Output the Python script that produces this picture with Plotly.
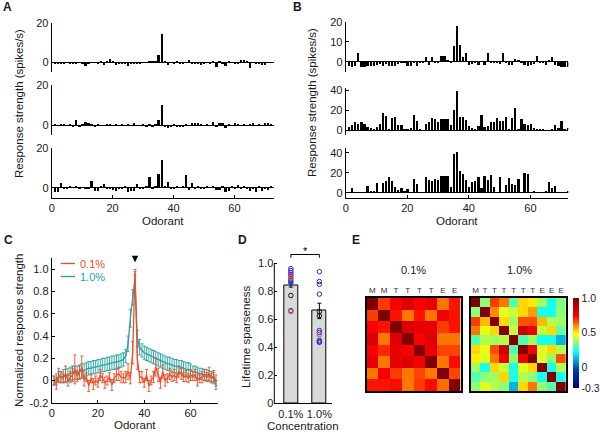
import plotly.graph_objects as go

W, H = 600, 432
FONT = "Liberation Sans, Arial, Helvetica, sans-serif"
RED = "#EE4D26"
TEAL = "#22A39F"
BLUE = "#2B2BD0"
PINK = "#E0503C"

# ---------------- data ----------------
odorants = list(range(1, 73))
a_top = [-0.5, -0.8, -0.3, -0.5, 0.2, -0.4, -0.3, -0.6, 0.1, -0.5,
         -1.8, -0.4, 0.2, -0.2, -0.8, 0.3, -1.5, 0.5, 2.0, 0.3,
         -1.2, -0.6, -0.4, -0.8, -1.9, -0.5, -1.0, -0.3, -0.5, 0.1,
         0.0, 0.4, 0.3, 0.8, 3.7, 14.5, 0.6, -1.2, 0.2, -0.8,
         0.9, -0.3, -0.5, 0.2, 1.0, -0.3, -0.9, -0.6, -1.3, -0.7,
         0.0, -0.3, 0.3, -2.2, 0.6, -0.5, -1.6, 0.3, -0.2, -0.6,
         -0.8, 1.2, 1.0, 0.3, -3.0, 0.1, -0.3, -0.4, -1.1, -1.4,
         -0.2, 0.0]
a_mid = [0.2, -0.2, 0.3, 0.2, -0.3, 0.2, -0.8, 2.5, -0.8, 0.4,
         1.3, 1.0, 0.3, -0.9, 0.2, -0.2, -0.4, 0.3, 0.1, -0.3,
         0.2, -0.2, 0.3, -0.4, 0.1, -0.3, 0.8, -0.2, -0.5, 0.3,
         -0.8, 0.1, -0.6, 0.2, 2.6, 9.8, -1.0, -1.3, -0.6, 0.3,
         -0.8, -1.2, -0.6, 0.2, -0.3, 1.0, 1.0, 0.8, 0.2, -0.2,
         0.3, -0.4, 1.3, -1.0, 1.0, 0.7, -1.3, 0.2, -0.3, 1.0,
         0.1, -0.2, 0.2, -0.4, 0.3, 0.6, -0.3, 0.2, -0.2, 1.2,
         0.9, 0.3]
a_bot = [-2.5, -2.3, 2.0, -0.8, -0.6, 0.2, -0.3, 0.2, -0.4, -0.2,
         -0.6, -0.8, 3.3, -1.8, -1.8, 0.3, 1.8, -0.4, -0.6, -1.5,
         -1.6, -0.8, -0.4, 0.3, -2.6, -1.6, -1.6, 1.6, -0.4, -0.8,
         0.2, 5.5, -0.5, 0.2, 7.0, 14.0, 0.4, 2.7, -1.0, -0.6,
         0.2, -0.3, 0.3, 6.3, -1.5, 2.0, -1.0, 0.5, -0.4, -0.6,
         0.3, -0.2, 0.4, -1.5, -1.5, 0.3, -2.5, -2.0, 0.2, -0.6,
         1.3, -0.8, 0.3, -0.6, -2.0, -0.8, -2.5, 0.2, -1.6, -1.0,
         -1.2, 0.3]
b_top = [-2, -2.5, -2, 4.5, -2.5, -2.5, -2, -2, -2, -1.5,
         -1, -2, -0.5, -2, -2, -2, -1, 0.5, -0.3, -2,
         -2, -0.3, -2, -0.2, 0.2, 2.5, -1.5, 2.5, -0.3, 0.2,
         3, 3, 1, 0.3, 8.2, 18, 8.7, 2.5, 4.8, -1.5,
         -1, 0.5, -1.5, 0, -1.5, 4.5, -0.3, 0.2, 0.5, -1,
         4.8, -0.3, -1.5, -1.5, 1.5, 1, 0.5, -1.5, -2, -1.5,
         -0.5, 3, -0.3, 0.2, -1.5, 1, 2.7, -1.5, -2, -2.5,
         -2.5, -2.5]
b_mid = [3.5, 5, 8, 6, 8, 6.5, 3.5, 2.5, 0.5, 3,
         6, 17, 14.5, 0.5, 12, 13.5, 5, 5, 1, 0.5,
         2.5, 15.5, 9, 0.5, 0, 6, 8.5, 12.5, 11.5, 8,
         11, 11, 11, 5, 20.5, 39, 13.5, 13.5, 10, 4.5,
         2, 0.5, 4.5, 15.5, 3, 4, 8.5, 8.5, 12.5, 9.5,
         9, 13, 0.5, 12, 22.5, 0.5, 11.5, 6.5, 5.5, 6,
         2.5, 1, 0.3, 0.3, 0, 0, 0.3, 5, 2, 9.5,
         0.3, 1.5]
b_bot = [0.5, 5.5, 0.5, 0.5, 1, 0.3, 7.5, 2.5, 2.5, 10.5,
         0.5, 10.5, 12, 16, 12, 6, 3.5, 5, 1.5, 4.5,
         0.5, 14, 9, 0.5, 0.5, 16, 13, 12.5, 14.5, 13.5,
         17, 17, 17, 6, 39, 41, 22, 19, 13, 6,
         11, 12, 16, 5.5, 17, 13, 18, 6, 0.5, 16,
         0.5, 8, 15, 9.5, 8, 14, 0.5, 20.5, 19, 0.5,
         2, 0.5, 0.3, 0.3, 2, 11.5, 5, 7, 0.5, 0.3,
         0.5, 1.5]

c_odorants = list(range(1, 72))
c_low = [0.0, -0.03, 0.05, 0.03, 0.02, 0.06, 0.0, 0.03, 0.05, 0.1,
         0.04, 0.07, 0.12, 0.0, 0.03, -0.05, 0.02, -0.03, 0.0, -0.02,
         0.05, 0.02, -0.02, 0.0, 0.03, -0.04, 0.02, 0.05, 0.06, 0.03,
         0.02, 0.03, 0.08, 0.02, 0.25, 0.97, 0.2, 0.03, 0.03, -0.02,
         0.05, -0.05, 0.0, 0.03, 0.12, 0.05, -0.02, 0.08, 0.0, 0.02,
         0.06, 0.03, 0.05, 0.02, 0.08, 0.06, 0.03, 0.04, 0.02, 0.05,
         0.04, 0.05, 0.0, 0.02, 0.03, 0.05, 0.03, 0.06, 0.02, 0.04,
         0.0]
c_low_err = [0.04, 0.05, 0.06, 0.05, 0.04, 0.07, 0.05, 0.05, 0.06, 0.13,
             0.05, 0.06, 0.1, 0.05, 0.04, 0.05, 0.04, 0.05, 0.04, 0.04,
             0.05, 0.04, 0.05, 0.04, 0.04, 0.05, 0.04, 0.05, 0.06, 0.05,
             0.04, 0.05, 0.07, 0.05, 0.1, 0.03, 0.1, 0.05, 0.05, 0.04,
             0.05, 0.05, 0.04, 0.05, 0.08, 0.06, 0.05, 0.06, 0.05, 0.04,
             0.05, 0.04, 0.05, 0.04, 0.05, 0.05, 0.04, 0.05, 0.04, 0.05,
             0.04, 0.05, 0.05, 0.04, 0.05, 0.05, 0.04, 0.06, 0.04, 0.05,
             0.05]
c_high = [0.0, 0.01, 0.03, 0.03, 0.04, 0.04, 0.05, 0.06, 0.07, 0.07,
          0.07, 0.08, 0.09, 0.09, 0.10, 0.11, 0.11, 0.12, 0.12, 0.13,
          0.13, 0.14, 0.14, 0.15, 0.15, 0.16, 0.16, 0.17, 0.17, 0.18,
          0.19, 0.22, 0.33, 0.56, 0.75, 0.92, 0.38, 0.30, 0.27, 0.25,
          0.24, 0.23, 0.22, 0.21, 0.20, 0.19, 0.18, 0.17, 0.16, 0.15,
          0.15, 0.14, 0.13, 0.13, 0.12, 0.12, 0.11, 0.10, 0.10, 0.09,
          0.08, 0.08, 0.07, 0.06, 0.06, 0.05, 0.05, 0.04, 0.03, 0.02,
          -0.04]
c_high_err = [0.04, 0.05, 0.05, 0.05, 0.06, 0.06, 0.06, 0.06, 0.06, 0.06,
              0.06, 0.06, 0.06, 0.06, 0.06, 0.06, 0.06, 0.06, 0.06, 0.06,
              0.06, 0.06, 0.06, 0.06, 0.06, 0.06, 0.06, 0.06, 0.06, 0.06,
              0.06, 0.06, 0.07, 0.08, 0.07, 0.06, 0.07, 0.07, 0.06, 0.06,
              0.06, 0.06, 0.06, 0.06, 0.06, 0.06, 0.06, 0.06, 0.06, 0.06,
              0.06, 0.06, 0.06, 0.06, 0.06, 0.06, 0.06, 0.06, 0.06, 0.06,
              0.05, 0.05, 0.05, 0.05, 0.05, 0.05, 0.05, 0.05, 0.05, 0.05,
              0.04]
c_names = ["0.1%", "1.0%"]

d_conc = ["0.1%", "1.0%"]
d_mean = [0.845, 0.66]
d_sem = [0.015, 0.055]
d_blue_low = [0.962, 0.948, 0.934, 0.92, 0.905, 0.885, 0.872, 0.86, 0.662]
d_red_low = [0.912, 0.897, 0.655]
d_black_low = [0.77]
d_blue_high = [0.94, 0.87, 0.85, 0.78, 0.52, 0.505, 0.45, 0.44, 0.435]
d_red_high = [0.49]
d_black_high = [0.655, 0.625]
d_bracket_y = [1.04, 1.063]

e_labels_low = ["M", "M", "T", "T", "T", "T", "E", "E"]
e_labels_high = ["M", "T", "T", "T", "T", "T", "T", "E", "E", "E"]
e_low = [
    [1.0, 0.68, 0.74, 0.80, 0.74, 0.78, 0.62, 0.72],
    [0.68, 1.0, 0.72, 0.62, 0.72, 0.62, 0.76, 0.72],
    [0.74, 0.72, 1.0, 0.80, 0.78, 0.78, 0.68, 0.72],
    [0.80, 0.62, 0.80, 1.0, 0.74, 0.80, 0.62, 0.62],
    [0.74, 0.70, 0.78, 0.74, 1.0, 0.77, 0.67, 0.67],
    [0.78, 0.62, 0.78, 0.80, 0.75, 1.0, 0.62, 0.73],
    [0.62, 0.75, 0.68, 0.62, 0.67, 0.62, 1.0, 0.67],
    [0.72, 0.72, 0.73, 0.62, 0.68, 0.73, 0.63, 1.0],
]
e_high = [
    [1.0, 0.36, 0.68, 0.62, 0.30, 0.52, 0.50, 0.38, 0.24, 0.35],
    [0.36, 1.0, 0.60, 0.45, 0.42, 0.52, 0.58, 0.24, 0.24, 0.36],
    [0.68, 0.55, 1.0, 0.52, 0.38, 0.66, 0.66, 0.55, 0.40, 0.38],
    [0.62, 0.45, 0.52, 1.0, 0.42, 0.84, 0.76, 0.42, 0.52, 0.32],
    [0.30, 0.40, 0.38, 0.40, 1.0, 0.30, 0.38, 0.24, 0.24, 0.12],
    [0.52, 0.46, 0.66, 0.84, 0.30, 1.0, 0.76, 0.45, 0.52, 0.40],
    [0.50, 0.45, 0.62, 0.76, 0.36, 0.76, 1.0, 0.45, 0.36, 0.66],
    [0.38, 0.24, 0.52, 0.42, 0.24, 0.45, 0.52, 1.0, 0.24, 0.40],
    [0.30, 0.36, 0.38, 0.52, 0.24, 0.40, 0.36, 0.24, 1.0, 0.24],
    [0.36, 0.45, 0.40, 0.36, 0.12, 0.52, 0.62, 0.36, 0.30, 1.0],
]
e_titles = ["0.1%", "1.0%"]
cbar_ticks = [-0.3, 0, 0.5, 1.0]
cbar_text = ["-0.3", "0", "0.5", "1.0"]


# ---------------- helpers (pixel layout) ----------------
def dx(p0, p1):
    return [p0 / W, p1 / W]


def dy(top, bottom):
    return [1 - bottom / H, 1 - top / H]


def px(x):
    return x / W


def py(y):
    return 1 - y / H


tickfont = dict(family=FONT, size=11, color="#1a1a1a")
base = dict(showgrid=False, zeroline=False, showline=True, linecolor="black",
            linewidth=1, ticks="inside", ticklen=3, tickwidth=1,
            tickcolor="black", tickfont=tickfont, fixedrange=True,
            automargin=False)

fig = go.Figure()
lay = {}

# ---------------- panels A & B ----------------
bar_specs = [
    (a_top, 1, (51.7, 274.0), (22.7, 72.0), [-5, 20], [-5, 0, 20], False, [0, 73]),
    (a_mid, 2, (51.7, 274.0), (85.0, 135.0), [-5, 20], [-5, 0, 20], False, [0, 73]),
    (a_bot, 3, (51.7, 274.0), (148.3, 197.5), [-5, 20], [0, 20], True, [0, 73]),
    (b_top, 4, (345.7, 568.3), (21.7, 72.0), [-5, 20], [-5, 0, 10, 20], False, [0, 72.3]),
    (b_mid, 5, (345.7, 568.3), (88.0, 135.0), [-5, 42], [-5, 0, 20, 40], False, [0, 72.3]),
    (b_bot, 6, (345.7, 568.3), (147.7, 197.7), [-5, 45], [0, 20, 40], True, [0, 72.3]),
]
for series, i, xp, yp, yr, tv, showx, xr in bar_specs:
    s = "" if i == 1 else str(i)
    fig.add_trace(go.Bar(x=odorants, y=series, width=0.72,
                         marker=dict(color="black", line=dict(width=0)),
                         xaxis="x" + s, yaxis="y" + s, showlegend=False))
    xa = dict(base, domain=dx(*xp), range=xr, anchor="y" + s,
              tickvals=[0, 20, 40, 60])
    if not showx:
        xa["visible"] = False
    ya = dict(base, domain=dy(*yp), range=yr, anchor="x" + s,
              tickvals=tv, ticktext=["" if v == -5 else str(v) for v in tv],
              zeroline=True, zerolinecolor="black", zerolinewidth=1)
    lay["xaxis" + s] = xa
    lay["yaxis" + s] = ya

# ---------------- panel C ----------------
fig.add_trace(go.Scatter(x=c_odorants, y=c_high, mode="lines", name=c_names[1],
                         line=dict(color=TEAL, width=1.3),
                         error_y=dict(type="data", array=c_high_err, color=TEAL,
                                      thickness=0.9, width=1.5),
                         xaxis="x7", yaxis="y7", showlegend=False))
fig.add_trace(go.Scatter(x=c_odorants, y=c_low, mode="lines", name=c_names[0],
                         line=dict(color=RED, width=1.3),
                         error_y=dict(type="data", array=c_low_err, color=RED,
                                      thickness=0.9, width=1.5),
                         xaxis="x7", yaxis="y7", showlegend=False))
c_ticks = [-0.2, 0, 0.2, 0.4, 0.6, 0.8, 1.0]
lay["xaxis7"] = dict(base, domain=dx(51.7, 218.3), range=[0, 72], anchor="y7",
                     tickvals=[0, 20, 40, 60])
lay["yaxis7"] = dict(base, domain=dy(258.3, 402.7), range=[-0.2, 1.1], anchor="x7",
                     tickvals=c_ticks,
                     ticktext=["-0.2", "0", "0.2", "0.4", "0.6", "0.8", "1.0"])

# ---------------- panel D ----------------
fig.add_trace(go.Bar(x=d_conc, y=d_mean, width=0.49,
                     marker=dict(color="#D9D9D9", line=dict(color="black", width=1)),
                     error_y=dict(type="data", array=d_sem, color="black",
                                  thickness=1, width=2),
                     xaxis="x8", yaxis="y8", showlegend=False))
for vals, conc, col in [(d_blue_low, d_conc[0], BLUE), (d_red_low, d_conc[0], PINK),
                        (d_black_low, d_conc[0], "#111111"),
                        (d_blue_high, d_conc[1], BLUE), (d_red_high, d_conc[1], PINK),
                        (d_black_high, d_conc[1], "#111111")]:
    fig.add_trace(go.Scatter(x=[conc] * len(vals), y=vals, mode="markers",
                             marker=dict(symbol="circle-open", size=4.5,
                                         color=col, line=dict(width=1, color=col)),
                             xaxis="x8", yaxis="y8", showlegend=False))
fig.add_trace(go.Scatter(x=[d_conc[0], d_conc[0], d_conc[1], d_conc[1]],
                         y=[d_bracket_y[0], d_bracket_y[1], d_bracket_y[1], d_bracket_y[0]],
                         mode="lines", line=dict(color="black", width=1),
                         xaxis="x8", yaxis="y8", showlegend=False))
D_TOP_PX = 403.3 - 1.12 * 140
lay["xaxis8"] = dict(base, domain=dx(274.3, 332.2), range=[-0.58, 1.45], anchor="y8",
                     type="category", ticks="")
lay["yaxis8"] = dict(base, domain=dy(D_TOP_PX, 403.3), range=[0, 1.12], anchor="x8",
                     showline=False, tickvals=[0, 0.2, 0.4, 0.6, 0.8, 1.0],
                     ticktext=["0", "0.2", "0.4", "0.6", "0.8", "1.0"])

# ---------------- panel E ----------------
fig.add_trace(go.Heatmap(z=e_low, colorscale="Jet", zmin=-0.3, zmax=1.0,
                         showscale=False, xaxis="x9", yaxis="y9"))
fig.add_trace(go.Heatmap(z=e_high, colorscale="Jet", zmin=-0.3, zmax=1.0,
                         xaxis="x10", yaxis="y10", showscale=True,
                         colorbar=dict(x=px(573.3), xanchor="left", xpad=0, ypad=0,
                                       thickness=6, lenmode="pixels", len=90,
                                       y=py(343), yanchor="middle",
                                       outlinewidth=0, ticks="",
                                       tickvals=cbar_ticks, ticktext=cbar_text,
                                       tickfont=dict(family=FONT, size=10.5,
                                                     color="#1a1a1a"))))
heat_box = dict(showgrid=False, zeroline=False, showline=True, mirror=True,
                linecolor="black", linewidth=2, ticks="", fixedrange=True,
                automargin=False)
lay["xaxis9"] = dict(heat_box, domain=dx(366.5, 460.5), range=[-0.5, 7.5], anchor="y9",
                     side="top", tickvals=list(range(8)), ticktext=e_labels_low,
                     tickfont=dict(family=FONT, size=8, color="#333"))
lay["yaxis9"] = dict(heat_box, domain=dy(298, 391), range=[7.5, -0.5], anchor="x9",
                     showticklabels=False)
lay["xaxis10"] = dict(heat_box, domain=dx(470.7, 566), range=[-0.5, 9.5], anchor="y10",
                      side="top", tickvals=list(range(10)), ticktext=e_labels_high,
                      tickfont=dict(family=FONT, size=8, color="#333"))
lay["yaxis10"] = dict(heat_box, domain=dy(298, 391), range=[9.5, -0.5], anchor="x10",
                      showticklabels=False)

# ---------------- annotations ----------------
ann = []


def label(text, x, y, angle=0, size=11.5, color="#1a1a1a", xanchor="center"):
    ann.append(dict(text=text, x=px(x), y=py(y), xref="paper", yref="paper",
                    showarrow=False, textangle=angle, xanchor=xanchor,
                    yanchor="middle", font=dict(family=FONT, size=size, color=color)))


label("<b>A</b>", 1, 7, size=12, xanchor="left")
label("<b>B</b>", 291, 7, size=12, xanchor="left")
label("<b>C</b>", 2, 240, size=12, xanchor="left")
label("<b>D</b>", 236, 240, size=12, xanchor="left")
label("<b>E</b>", 350, 240, size=12, xanchor="left")
label("Response strength (spikes/s)", 19, 104, angle=-90)
label("Response strength (spikes/s)", 312, 103, angle=-90)
label("Odorant", 163, 221)
label("Odorant", 457, 221)
label("Normalized response strength", 19, 331, angle=-90)
label("Odorant", 135, 425)
label("Lifetime sparseness", 246, 336, angle=-90)
label("Concentration", 303, 426)
label(e_titles[0], 413, 270, size=11)
label(e_titles[1], 519, 270, size=11)
label(c_names[0], 78, 263.5, size=11, color=RED, xanchor="left")
label(c_names[1], 78, 276.5, size=11, color=TEAL, xanchor="left")

for xr, yr, yv, ay in [("x", "y", 20.5, -10), ("x4", "y4", 20.5, -10), ("x7", "y7", 1.065, -7)]:
    ann.append(dict(x=36, y=yv, xref=xr, yref=yr, showarrow=True, ax=0, ay=ay,
                    arrowhead=2, arrowsize=1, arrowwidth=1.3, arrowcolor="black", text=""))
ann.append(dict(x=0.5, y=1.09, xref="x8", yref="y8", text="*", showarrow=False,
                font=dict(family=FONT, size=11, color="black")))

shapes = [
    dict(type="line", xref="paper", yref="paper", x0=px(60.7), x1=px(75),
         y0=py(263.5), y1=py(263.5), line=dict(color=RED, width=1.3)),
    dict(type="line", xref="paper", yref="paper", x0=px(60.7), x1=px(75),
         y0=py(276.5), y1=py(276.5), line=dict(color=TEAL, width=1.3)),
    dict(type="line", xref="paper", yref="paper", x0=px(274.3), x1=px(274.3),
         y0=py(403.3), y1=py(403.3 - 140), line=dict(color="black", width=1)),
]

fig.update_layout(width=W, height=H,
                  margin=dict(l=0, r=0, t=0, b=0, pad=0, autoexpand=False),
                  paper_bgcolor="white", plot_bgcolor="white",
                  font=dict(family=FONT, size=11, color="#1a1a1a"),
                  showlegend=False, bargap=0, annotations=ann, shapes=shapes,
                  **lay)

fig.write_html("out.html", config={"displayModeBar": False},
               post_script="document.body.style.margin='0';"
                           "document.body.style.overflow='hidden';")
